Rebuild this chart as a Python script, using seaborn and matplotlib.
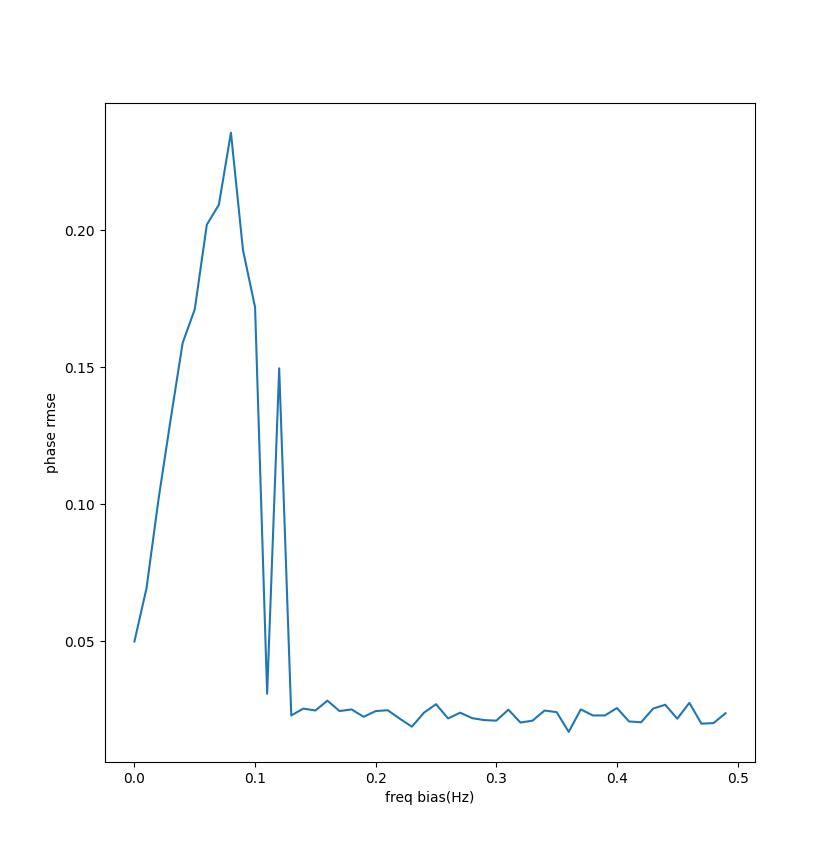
import matplotlib
matplotlib.use("Agg")
import matplotlib.pyplot as plt
import seaborn as sns
import numpy as np
import pandas as pd

freq_bias = [round(i * 0.01, 2) for i in range(50)]
phase_rmse = [
    0.0500, 0.0694, 0.1020, 0.1310, 0.1590, 0.1712, 0.2021, 0.2094, 0.2357, 0.1928,
    0.1720, 0.0309, 0.1497, 0.0230, 0.0255, 0.0248, 0.0284, 0.0246, 0.0252, 0.0225,
    0.0246, 0.0249, 0.0218, 0.0189, 0.0240, 0.0271, 0.0219, 0.0240, 0.0220, 0.0213,
    0.0211, 0.0251, 0.0204, 0.0211, 0.0248, 0.0242, 0.0170, 0.0252, 0.0230, 0.0230,
    0.0257, 0.0208, 0.0205, 0.0255, 0.0269, 0.0218, 0.0276, 0.0200, 0.0202, 0.0238,
]

df = pd.DataFrame({"freq bias(Hz)": freq_bias, "phase rmse": phase_rmse})

fig, ax = plt.subplots(figsize=(8.39, 8.56), dpi=100)
sns.lineplot(data=df, x="freq bias(Hz)", y="phase rmse", ax=ax, color="#1f77b4", linewidth=1.5)
ax.set_xlabel("freq bias(Hz)")
ax.set_ylabel("phase rmse")
ax.set_xticks([0.0, 0.1, 0.2, 0.3, 0.4, 0.5])
ax.set_yticks([0.05, 0.10, 0.15, 0.20])
fig.savefig("out.png", dpi=100)
